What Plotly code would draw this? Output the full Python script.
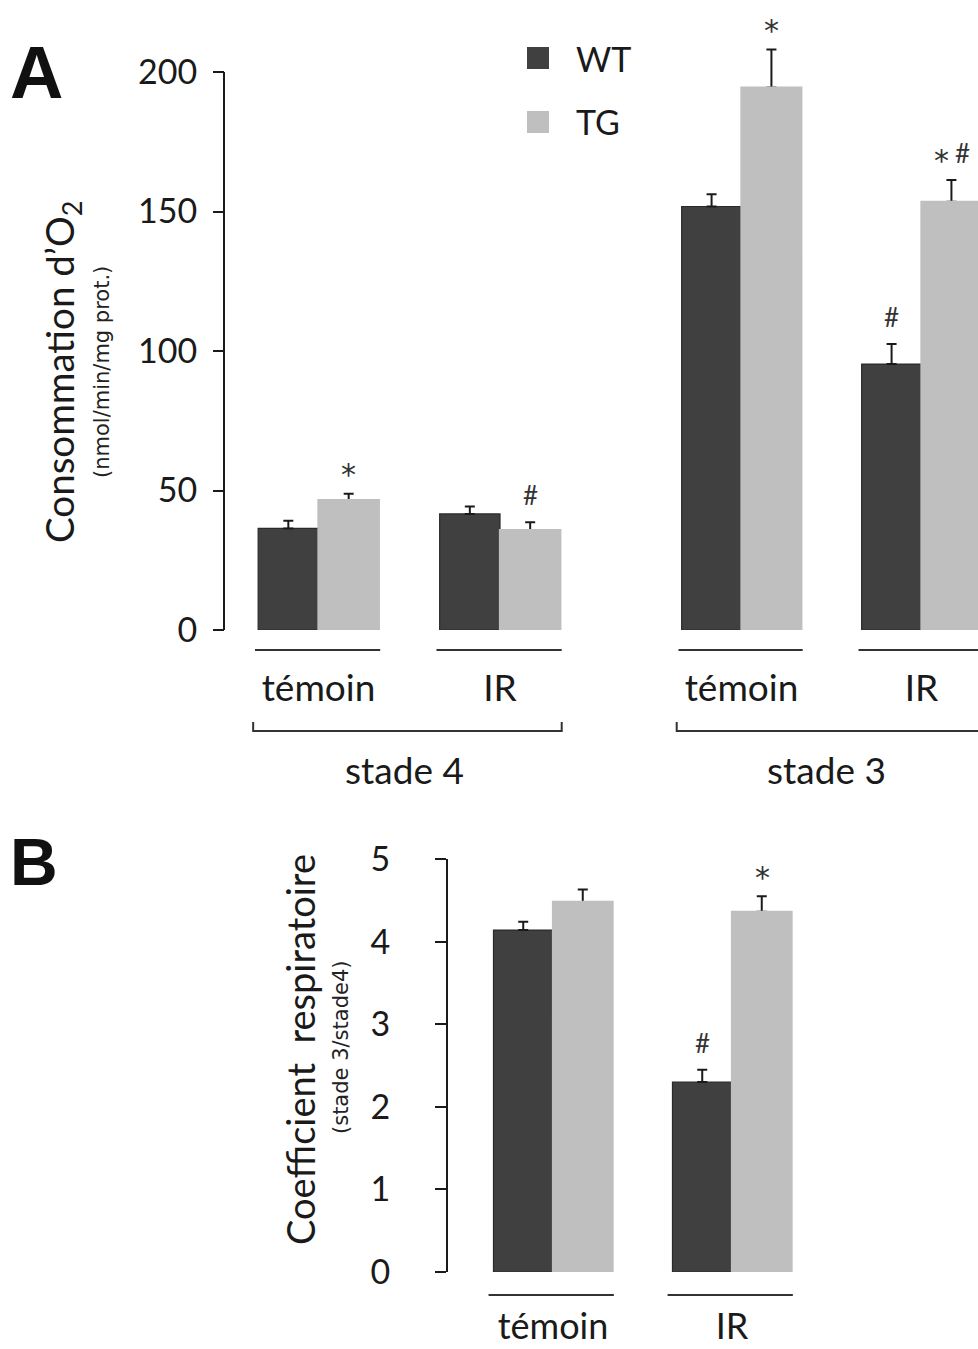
import plotly.graph_objects as go

W, H = 978, 1349
def px(x): return x / W
def py(y): return 1 - y / H

# ---------------- data ----------------
groups = ["témoin", "IR"]
stades = ["stade 4", "stade 3"]
series = ["WT", "TG"]

s4_wt = [36.4, 41.6]; s4_wt_sem = [2.8, 2.7]
s4_tg = [46.6, 35.8]; s4_tg_sem = [2.2, 2.8]
s3_wt = [151.8, 95.3]; s3_wt_sem = [4.4, 7.2]
s3_tg = [194.4, 153.5]; s3_tg_sem = [13.7, 7.8]
rc_wt = [4.14, 2.30]; rc_wt_sem = [0.10, 0.15]
rc_tg = [4.48, 4.36]; rc_tg_sem = [0.15, 0.19]

sig_s4_wt = ["", ""]; sig_s4_tg = ["*", "#"]
sig_s3_wt = ["", "#"]; sig_s3_tg = ["*", "* #"]
sig_rc_wt = ["", "#"]; sig_rc_tg = ["", "*"]

yticks_a = [0, 50, 100, 150, 200]
yticks_b = [0, 1, 2, 3, 4, 5]

WT_COL = "#404040"
TG_COL = "#bfbfbf"
INK = "#1a1a1a"
FONT = "Lato"

fig = go.Figure()

def add_bars(xa, ya, vals, sems, name, col, lcol, og):
    fig.add_trace(go.Bar(
        x=groups, y=vals, name=name, xaxis=xa, yaxis=ya, offsetgroup=og,
        marker=dict(color=col, line=dict(color=lcol, width=1.2)),
        error_y=dict(type="data", array=sems, arrayminus=[0] * len(sems),
                     symmetric=False, color=INK, thickness=2, width=5),
        showlegend=False))
    if og == "tg":
        # same bars again on top, hiding the lower cap of the error bar
        fig.add_trace(go.Bar(
            x=groups, y=vals, name=name, xaxis=xa, yaxis=ya, offsetgroup=og,
            marker=dict(color=col, line=dict(color=col, width=2.2)),
            hoverinfo="skip", showlegend=False))

add_bars("x", "y", s4_wt, s4_wt_sem, "WT", WT_COL, "#2a2a2a", "wt")
add_bars("x", "y", s4_tg, s4_tg_sem, "TG", TG_COL, "#b8b8b8", "tg")
add_bars("x2", "y", s3_wt, s3_wt_sem, "WT", WT_COL, "#2a2a2a", "wt")
add_bars("x2", "y", s3_tg, s3_tg_sem, "TG", TG_COL, "#b8b8b8", "tg")
add_bars("x3", "y3", rc_wt, rc_wt_sem, "WT", WT_COL, "#2a2a2a", "wt")
add_bars("x3", "y3", rc_tg, rc_tg_sem, "TG", TG_COL, "#b8b8b8", "tg")

annotations = []

def add_sig(xref, yref, vals, sems, sigs, shift):
    for g, v, s, t in zip(groups, vals, sems, sigs):
        toks = t.split()
        if not toks:
            continue
        n = len(toks)
        for k, tok in enumerate(toks):
            dx = (k - (n - 1) / 2) * 21
            if tok == "*":
                fnt = dict(family="DejaVu Sans", size=30, color="#333")
                ys = 19
            else:
                fnt = dict(family=FONT, size=26, color="#333")
                ys = 27
            annotations.append(dict(
                x=g, y=v + s, xref=xref, yref=yref, text=tok, showarrow=False,
                xshift=shift + dx, yshift=ys, yanchor="middle", xanchor="center",
                font=fnt))

add_sig("x", "y", s4_wt, s4_wt_sem, sig_s4_wt, -30)
add_sig("x", "y", s4_tg, s4_tg_sem, sig_s4_tg, 30)
add_sig("x2", "y", s3_wt, s3_wt_sem, sig_s3_wt, -30)
add_sig("x2", "y", s3_tg, s3_tg_sem, sig_s3_tg, 30)
add_sig("x3", "y3", rc_wt, rc_wt_sem, sig_rc_wt, -30)
add_sig("x3", "y3", rc_tg, rc_tg_sem, sig_rc_tg, 30)

def ann(x, y, text, size, family=FONT, angle=0, xa="center", ya="middle", color=INK):
    annotations.append(dict(x=x, y=y, xref="paper", yref="paper", text=text,
                            textangle=angle, showarrow=False, xanchor=xa, yanchor=ya,
                            font=dict(family=family, size=size, color=color)))

# panel letters
ann(px(36), py(72), "<b>A</b>", 74, family="Liberation Sans", color="#111")
ann(px(34), py(862), "<b>B</b>", 66, family="Liberation Sans", color="#111")

# y titles
ann(px(62), py(372), "Consommation d’O<sub>2</sub>", 38.5, angle=-90)
ann(px(102), py(372), "(nmol/min/mg prot.)", 21, family="DejaVu Sans", angle=-90, color="#222")
ann(px(300), py(1050), "Coefficient  respiratoire", 38, angle=-90)
ann(px(341), py(1048), "(stade 3/stade4)", 21, family="DejaVu Sans", angle=-90, color="#222")

# stade labels
for xr, st in zip(["x", "x2"], stades):
    annotations.append(dict(x=0.5, y=py(769), xref=xr, yref="paper", text=st,
                            showarrow=False, xshift=-5, yanchor="middle", xanchor="center",
                            font=dict(family=FONT, size=37, color=INK)))

# legend (manual)
shapes = []
for name, col, yc in zip(series, [WT_COL, TG_COL], [58, 122]):
    shapes.append(dict(type="rect", xref="paper", yref="paper",
                       x0=px(527), x1=px(549), y0=py(yc - 11), y1=py(yc + 11),
                       fillcolor=col, line=dict(width=0)))
    ann(px(574), py(yc), name, 34, xa="left")

# spine for panel A
shapes.append(dict(type="line", xref="paper", yref="y", x0=px(224), x1=px(224), y0=0, y1=200,
                   line=dict(color=INK, width=2)))

# group underlines
for xr in ["x", "x2"]:
    for i in range(len(groups)):
        shapes.append(dict(type="line", xref=xr, yref="paper", x0=i - 0.35, x1=i + 0.34,
                           y0=py(650), y1=py(650), line=dict(color="#333", width=2)))
for i in range(len(groups)):
    shapes.append(dict(type="line", xref="x3", yref="paper", x0=i - 0.36, x1=i + 0.34,
                       y0=py(1295), y1=py(1295), line=dict(color="#333", width=2)))

# brackets
for xr in ["x", "x2"]:
    shapes.append(dict(type="path", xref=xr, yref="paper",
                       path=f"M -0.36,{py(722)} L -0.36,{py(731)} L 1.34,{py(731)} L 1.34,{py(722)}",
                       line=dict(color="#333", width=2)))

xcommon = dict(type="category", categoryorder="array", categoryarray=groups,
               showline=False, showgrid=False, zeroline=False, ticks="",
               fixedrange=True, automargin=False)
ycommon = dict(showgrid=False, zeroline=False, ticks="outside", ticklen=11, tickwidth=2,
               tickcolor=INK, tickfont=dict(family=FONT, size=34, color=INK), anchor="free",
               automargin=False, fixedrange=True)

fig.update_layout(
    width=W, height=H,
    margin=dict(l=0, r=0, t=0, b=0, pad=0, autoexpand=False),
    paper_bgcolor="white", plot_bgcolor="rgba(0,0,0,0)",
    barmode="group", bargap=0.335, bargroupgap=0,
    xaxis=dict(domain=[px(227.75), px(590.75)], range=[-0.5, 1.5], anchor="y",
               tickfont=dict(family=FONT, size=37, color=INK), ticklabelstandoff=33, **xcommon),
    xaxis2=dict(domain=[px(651.5), 1.0], range=[-0.5, -0.5 + (978 - 651.5) / 180], anchor="y",
                tickfont=dict(family=FONT, size=37, color=INK), ticklabelstandoff=33, **xcommon),
    xaxis3=dict(domain=[px(463.5), px(821.5)], range=[-0.5, 1.5], anchor="y3",
                tickfont=dict(family=FONT, size=36, color=INK), ticklabelstandoff=30, **xcommon),
    yaxis=dict(domain=[py(630), py(16)], range=[0, 200 * (630 - 16) / 558], tickvals=yticks_a,
               position=px(224), showline=False, ticklabelstandoff=9, **ycommon),
    yaxis3=dict(domain=[py(1272), py(859)], range=[0, 5], tickvals=yticks_b,
                position=px(447), showline=True, linecolor=INK, linewidth=2,
                ticklabelstandoff=38, **ycommon),
    annotations=annotations,
    shapes=shapes,
    showlegend=False,
)

fig.write_html("out.html")
